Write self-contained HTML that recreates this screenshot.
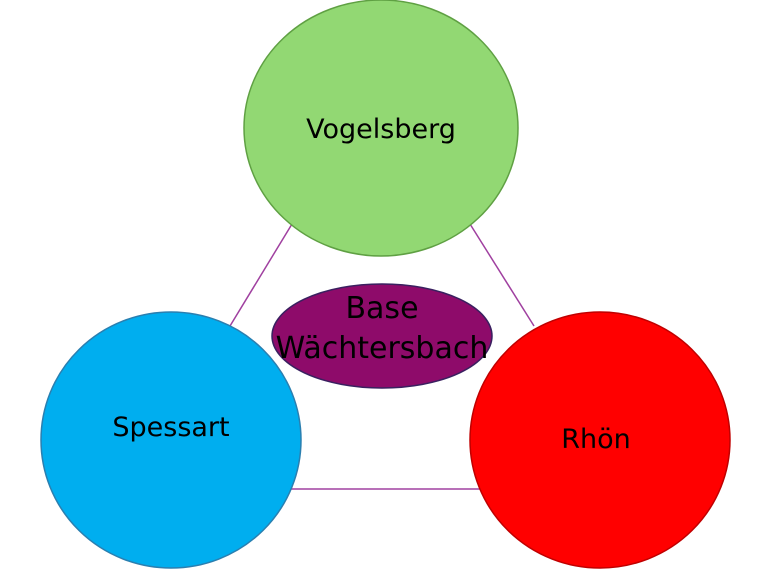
<!DOCTYPE html>
<html><head><meta charset="utf-8"><style>
html,body{margin:0;padding:0;background:#fff;width:768px;height:576px;overflow:hidden}
text{font-family:"DejaVu Sans","Liberation Sans",sans-serif;font-size:27px;fill:#000}
.b{font-size:30px}
</style></head><body>
<svg width="768" height="576" viewBox="0 0 768 576" xmlns="http://www.w3.org/2000/svg">
<line x1="292" y1="224" x2="230" y2="326" stroke="#a040a0" stroke-width="1.5"/>
<line x1="470" y1="224" x2="534" y2="326" stroke="#a040a0" stroke-width="1.5"/>
<line x1="290" y1="489" x2="482" y2="489" stroke="#a040a0" stroke-width="1.5"/>
<ellipse cx="381" cy="128" rx="137" ry="128" fill="#92d873" stroke="#5fa043" stroke-width="1.5"/>
<ellipse cx="171" cy="440" rx="130" ry="128" fill="#00aeef" stroke="#2a7fb0" stroke-width="1.5"/>
<ellipse cx="600" cy="440" rx="130" ry="128" fill="#ff0000" stroke="#c00000" stroke-width="1.5"/>
<ellipse cx="382" cy="336" rx="110" ry="52" fill="#8e0b6a" stroke="#3a2060" stroke-width="1.5"/>
<text x="381" y="138" text-anchor="middle">Vogelsberg</text>
<text x="171" y="436" text-anchor="middle">Spessart</text>
<text x="596" y="448" text-anchor="middle">Rhön</text>
<text class="b" x="382" y="318" text-anchor="middle">Base</text>
<text class="b" x="382" y="358" text-anchor="middle">Wächtersbach</text>
</svg>
</body></html>
